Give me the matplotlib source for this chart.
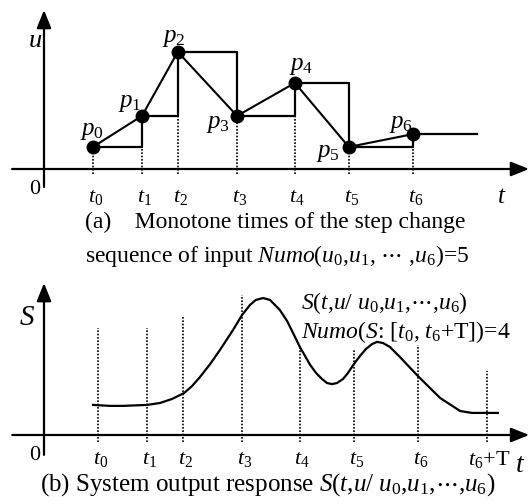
import numpy as np
import matplotlib
matplotlib.use('Agg')
import matplotlib.pyplot as plt

plt.rcParams['font.family'] = ['Liberation Serif', 'DejaVu Serif']
plt.rcParams['mathtext.fontset'] = 'custom'
plt.rcParams['mathtext.rm'] = 'Liberation Serif'
plt.rcParams['mathtext.it'] = 'Liberation Serif:italic'

# step change times and input levels (panel a)
times = [1.0, 2.0, 2.73, 3.94, 5.12, 6.22, 7.53]
u_vals = [0.69, 1.66, 3.66, 1.66, 2.69, 0.69, 1.09]
u_end = 8.84
point_labels = ['$p_0$', '$p_1$', '$p_2$', '$p_3$', '$p_4$', '$p_5$', '$p_6$']
label_t = [0.98, 1.755, 2.65, 3.55, 5.245, 5.8, 7.29]
label_u = [1.19, 2.06, 4.09, 1.41, 3.22, 0.5, 1.41]
tick_labels = ['$t_0$', '$t_1$', '$t_2$', '$t_3$', '$t_4$', '$t_5$', '$t_6$']

# system output response (panel b)
t_T = 8.94
curve_t = [0.898, 1.245, 1.51, 2.0, 2.265, 2.51, 2.755, 2.92, 3.08, 3.29, 3.49,
           3.755, 3.94, 4.10, 4.22, 4.37, 4.51, 4.71, 4.86, 4.98, 5.12, 5.33,
           5.449, 5.571, 5.673, 5.776, 5.878, 6.0, 6.102, 6.224, 6.347, 6.469,
           6.592, 6.694, 6.816, 6.959, 7.16, 7.53, 7.98, 8.39, 8.63, 9.16]
curve_s = [0.94, 0.91, 0.91, 0.94, 1.0, 1.125, 1.31, 1.53, 1.81, 2.22, 2.66,
           3.28, 3.75, 4.06, 4.22, 4.28, 4.22, 3.91, 3.56, 3.19, 2.75, 2.19,
           1.94, 1.75, 1.625, 1.59, 1.625, 1.75, 1.94, 2.22, 2.47, 2.69,
           2.84, 2.91, 2.875, 2.75, 2.44, 1.84, 1.16, 0.75, 0.69, 0.69]
guide_tops = [3.34, 3.34, 3.69, 4.375, 2.78, 2.69, 2.81, 2.0]

W, H = 529, 504
fig = plt.figure(figsize=(W / 100, H / 100), dpi=100)

ax1 = fig.add_axes([0, 1 - 250 / H, 1, 250 / H])
ax1.set_xlim(-44 / 49, 485 / 49)
ax1.set_ylim(-81 / 32, 169 / 32)
ax1.axis('off')

ax2 = fig.add_axes([0, 0, 1, 254 / H])
ax2.set_xlim(-1.0, 480 / 49)
ax2.set_ylim(-69 / 32, 185 / 32)
ax2.axis('off')

arrow = dict(arrowstyle='-|>,head_length=0.55,head_width=0.22', lw=1.6,
             color='k', mutation_scale=20, shrinkA=0, shrinkB=0)
dots = (0, (1, 1))
fs = 16

# ---- panel (a)
ax1.annotate('', xy=(9.9, 0), xytext=(-0.65, 0), arrowprops=arrow)
ax1.annotate('', xy=(0, 4.97), xytext=(0, -0.56), arrowprops=arrow)
ax1.vlines(times, -0.16, u_vals, colors='k', linestyles=dots, lw=1.2)
ax1.step(times + [u_end], u_vals + [u_vals[-1]], where='post', color='k', lw=1.6)
ax1.plot(times, u_vals, color='k', lw=1.5)
ax1.plot(times, u_vals, 'o', color='k', ms=9)
for lab, x, y in zip(point_labels, label_t, label_u):
    ax1.text(x, y, lab, fontsize=18, ha='center', va='center')
for lab, x in zip(tick_labels, times):
    ax1.text(x + 0.05, -0.9, lab, fontsize=fs, ha='center', va='center')
ax1.text(-0.18, 4.0, '$u$', fontsize=19, ha='center', va='center')
ax1.text(-0.18, -0.625, '0', fontsize=fs, ha='center', va='center')
ax1.text(9.35, -0.875, '$t$', fontsize=18, ha='center', va='center')

# ---- panel (b)
ax2.annotate('', xy=(9.8, 0), xytext=(-0.75, 0), arrowprops=arrow)
ax2.annotate('', xy=(-0.102, 4.75), xytext=(-0.102, -0.62), arrowprops=arrow)
ax2.vlines(times + [t_T], -0.22, guide_tops, colors='k', linestyles=dots, lw=1.2)
ax2.plot(curve_t, curve_s, color='k', lw=1.6)
for lab, x in zip(tick_labels + ['$t_6$+T'], times + [t_T]):
    ax2.text(x + 0.05, -0.78, lab, fontsize=fs, ha='center', va='center')
ax2.text(-0.45, 3.66, '$S$', fontsize=21, ha='center', va='center')
ax2.text(-0.29, -0.625, '0', fontsize=fs, ha='center', va='center')
ax2.text(9.62, -0.95, '$t$', fontsize=20, ha='center', va='center')
ax2.text(5.14, 4.125, r'$S$($t$,$u$/ $u_0$,$u_1$,$\cdots$,$u_6$)', fontsize=17,
         ha='left', va='center')
ax2.text(5.14, 3.22, r'$Numo$($S$: [$t_0$, $t_6$+T])=4', fontsize=17,
         ha='left', va='center')

# captions
fig.text(85 / W, 1 - 222 / H, '(a)    Monotone times of the step change',
         fontsize=17, ha='left', va='center')
fig.text(85 / W, 1 - 256 / H,
         r'sequence of input $Numo$($u_0$,$u_1$, $\cdots$ ,$u_6$)=5',
         fontsize=17, ha='left', va='center')
fig.text(40 / W, 1 - 485 / H,
         r'(b) System output response $S$($t$,$u$/ $u_0$,$u_1$,$\cdots$,$u_6$)',
         fontsize=18, ha='left', va='center')

fig.savefig('out.png', dpi=100)
